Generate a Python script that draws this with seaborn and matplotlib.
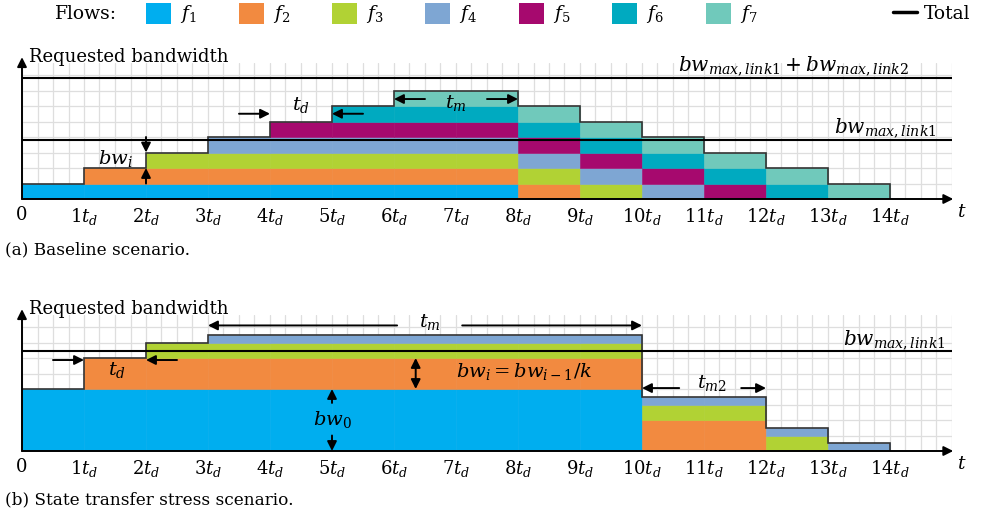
import matplotlib
matplotlib.use("Agg")
import matplotlib.pyplot as plt
import numpy as np
import pandas as pd
import seaborn as sns
from matplotlib.patches import Patch
from matplotlib.lines import Line2D

flows = ["f1", "f2", "f3", "f4", "f5", "f6", "f7"]
flow_labels = ["$f_1$", "$f_2$", "$f_3$", "$f_4$", "$f_5$", "$f_6$", "$f_7$"]
flow_colors = ["#00aeef", "#f28a40", "#b1d234", "#7ea6d3", "#a6096e", "#00aac0", "#70c9bb"]

# (a) baseline scenario: equal flows, each one lasts 8 t_d
base_start = [0, 1, 2, 3, 4, 5, 6]
base_end = [8, 9, 10, 11, 12, 13, 14]
base_bw = [1, 1, 1, 1, 1, 1, 1]
base_max_link1 = 3.8
base_max_both = 7.8

# (b) state transfer stress scenario: bw_i = bw_{i-1} / 2
stress_start = [0, 1, 2, 3]
stress_end = [10, 12, 13, 14]
stress_bw = [4, 2, 1, 0.5]
stress_max_link1 = 6.45

tick_pos = list(range(15))
tick_labels = ["0"] + [f"${i}t_d$" for i in range(1, 15)]

sns.set_style("white")
plt.rcParams["font.family"] = ["DejaVu Serif"]
plt.rcParams["mathtext.fontset"] = "dejavuserif"
plt.rcParams["text.color"] = "black"
plt.rcParams["xtick.labelcolor"] = "black"

W, H = 986, 517
fig = plt.figure(figsize=(W / 100, H / 100), dpi=100)
ax_a = fig.add_axes([22 / W, (H - 199) / H, 930 / W, 8.8 * 15.5 / H])
ax_b = fig.add_axes([22 / W, (H - 451) / H, 930 / W, 8.8 * 15.5 / H])

edges = np.arange(0, 15)
palette = dict(zip(flows, flow_colors))


def arrow(ax, start, end, style="-|>"):
    ax.annotate("", xy=end, xytext=start, annotation_clip=False,
                arrowprops=dict(arrowstyle=style, color="black", lw=1.4,
                                mutation_scale=14, shrinkA=0, shrinkB=0))


def draw_panel(ax, starts, ends, bws):
    used = flows[:len(starts)]
    rows = []
    for name, s, e, bw in zip(used, starts, ends, bws):
        for k in range(s, e):
            rows.append({"t": k + 0.5, "flow": name, "bw": bw})
    df = pd.DataFrame(rows)
    sns.histplot(data=df, x="t", weights="bw", hue="flow", hue_order=used[::-1],
                 palette=palette, multiple="stack", binwidth=1, binrange=(0, 14),
                 alpha=1, linewidth=0, legend=False, ax=ax)
    for p in ax.patches:
        if p.get_height() > 0:
            p.set_edgecolor(p.get_facecolor())
            p.set_linewidth(0.4)
    total = [sum(bw for s, e, bw in zip(starts, ends, bws) if s <= k < e) for k in edges[:-1]]
    ax.stairs(total, edges, baseline=0, color="#333333", lw=1.2, zorder=3)

    ax.set_xlim(0, 15)
    ax.set_ylim(0, 8.8)
    ax.set_xlabel("")
    ax.set_ylabel("")
    ax.set_xticks(tick_pos)
    ax.set_xticklabels(tick_labels)
    ax.set_xticks(np.arange(0, 15.01, 0.25), minor=True)
    ax.set_yticks(range(9))
    ax.set_yticklabels([])
    ax.tick_params(axis="x", which="major", direction="inout", length=6, width=1.2,
                   color="black", labelcolor="black", pad=2, labelsize=13)
    ax.tick_params(axis="x", which="minor", length=0)
    ax.tick_params(axis="y", which="both", length=0)
    ax.set_axisbelow(True)
    ax.grid(True, which="both", axis="x", color="#dedede", lw=0.9)
    ax.grid(True, which="major", axis="y", color="#dedede", lw=0.9)
    for sp in ax.spines.values():
        sp.set_visible(False)

    arrow(ax, (0, 0), (15.02, 0))
    arrow(ax, (0, 0), (0, 9.15))
    ax.text(0.12, 8.85, "Requested bandwidth", fontsize=13, va="baseline", ha="left")
    ax.text(15.15, -0.85, "$t$", fontsize=13.5, ha="center", va="center")


draw_panel(ax_a, base_start, base_end, base_bw)
draw_panel(ax_b, stress_start, stress_end, stress_bw)

# (a) annotations
ax_a.axhline(base_max_link1, color="black", lw=1.5, zorder=4)
ax_a.axhline(base_max_both, color="black", lw=1.5, zorder=4)
ax_a.text(14.3, 7.85, r"$bw_{max,link1}+bw_{max,link2}$", fontsize=14.5, ha="right", va="bottom")
ax_a.text(14.75, 3.85, r"$bw_{max,link1}$", fontsize=14.5, ha="right", va="bottom")
arrow(ax_a, (2, 4.0), (2, 3.0))
arrow(ax_a, (2, 1.0), (2, 2.0))
ax_a.text(1.5, 2.6, "$bw_i$", fontsize=14, ha="center", va="center")
arrow(ax_a, (3.5, 5.5), (4.0, 5.5))
arrow(ax_a, (5.5, 5.5), (5.0, 5.5))
ax_a.text(4.5, 6.05, "$t_d$", fontsize=14, ha="center", va="center")
arrow(ax_a, (6.5, 6.45), (6.0, 6.45))
arrow(ax_a, (7.5, 6.45), (8.0, 6.45))
ax_a.text(7.0, 6.2, "$t_m$", fontsize=14, ha="center", va="center")

# (b) annotations
ax_b.axhline(stress_max_link1, color="black", lw=1.5, zorder=4)
ax_b.text(14.9, 6.45, r"$bw_{max,link1}$", fontsize=14.5, ha="right", va="bottom")
arrow(ax_b, (0.5, 5.87), (1.0, 5.87))
arrow(ax_b, (2.5, 5.87), (2.0, 5.87))
ax_b.text(1.53, 5.2, "$t_d$", fontsize=14, ha="center", va="center")
arrow(ax_b, (6.05, 8.1), (3.0, 8.1))
arrow(ax_b, (7.1, 8.1), (10.0, 8.1))
ax_b.text(6.58, 8.3, "$t_m$", fontsize=14, ha="center", va="center")
arrow(ax_b, (10.6, 4.06), (10.0, 4.06))
arrow(ax_b, (11.6, 4.06), (12.0, 4.06))
ax_b.text(11.13, 4.4, "$t_{m2}$", fontsize=14, ha="center", va="center")
arrow(ax_b, (6.35, 4.0), (6.35, 6.0), style="<|-|>")
ax_b.text(8.1, 5.1, r"$bw_i = bw_{i-1}/k$", fontsize=14, ha="center", va="center")
arrow(ax_b, (5.0, 3.1), (5.0, 4.0))
arrow(ax_b, (5.0, 1.0), (5.0, 0.0))
ax_b.text(5.0, 2.0, "$bw_0$", fontsize=14, ha="center", va="center")

# legend row
fs = 13.5
em = fs * 100 / 72
fig.text(55 / W, 1 - 14 / H, "Flows:", fontsize=fs, va="center", ha="left")
handles = [Patch(facecolor=c, edgecolor="none", label=l) for c, l in zip(flow_colors, flow_labels)]
fig.legend(handles=handles, loc="center left", bbox_to_anchor=(146 / W, 1 - 14 / H),
           ncol=7, frameon=False, fontsize=fs, handlelength=25 / em, handleheight=25 / em,
           handletextpad=9 / em, columnspacing=42 / em, borderpad=0, borderaxespad=0)
fig.legend(handles=[Line2D([], [], color="black", lw=2.5, label="Total")],
           loc="center left", bbox_to_anchor=(893 / W, 1 - 14 / H), frameon=False,
           fontsize=fs, handlelength=24 / em, handletextpad=7 / em, borderpad=0, borderaxespad=0)

fig.text(5 / W, 1 - 250 / H, "(a) Baseline scenario.", fontsize=12.2, va="center", ha="left")
fig.text(5 / W, 1 - 500 / H, "(b) State transfer stress scenario.", fontsize=12.2, va="center", ha="left")

fig.savefig("out.png", dpi=100)
